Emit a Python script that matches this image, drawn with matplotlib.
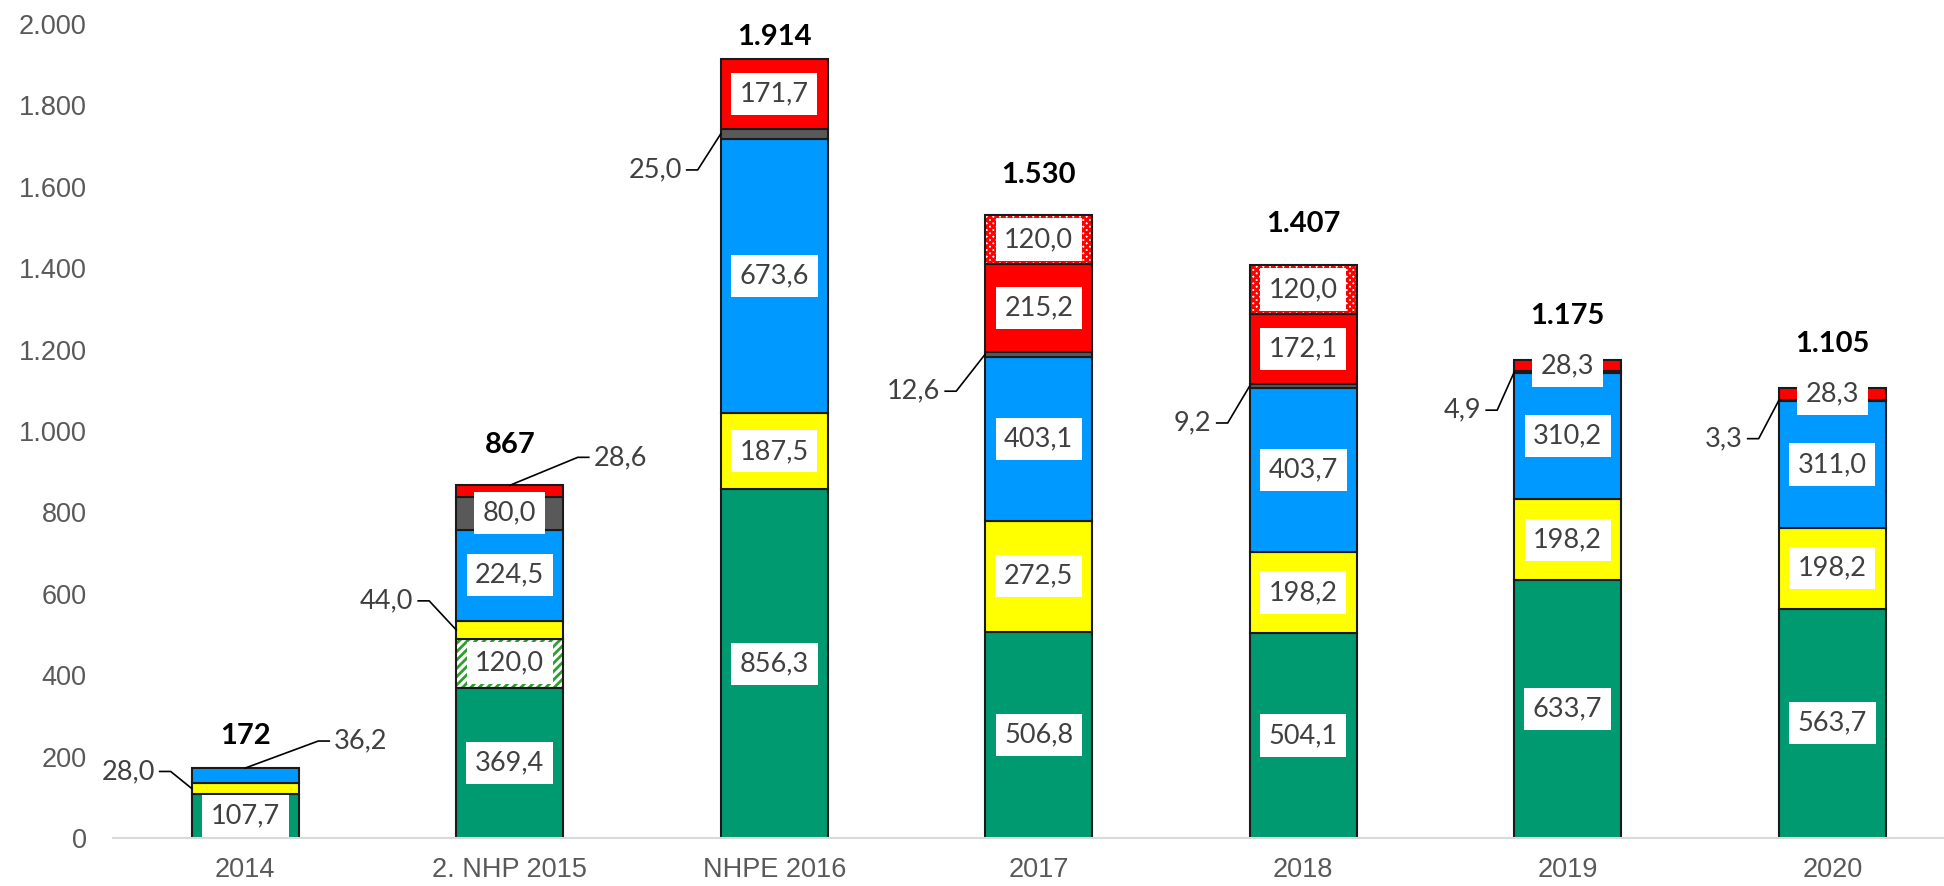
import matplotlib
matplotlib.use("Agg")
import matplotlib.pyplot as plt
import numpy as np
from matplotlib.lines import Line2D

# ---------------- data ----------------
categories = ['2014', '2. NHP 2015', 'NHPE 2016', '2017', '2018', '2019', '2020']
green = [107.7, 369.4, 856.3, 506.8, 504.1, 633.7, 563.7]
green_hatched = [0, 120.0, 0, 0, 0, 0, 0]
yellow = [28.0, 44.0, 187.5, 272.5, 198.2, 198.2, 198.2]
blue = [36.2, 224.5, 673.6, 403.1, 403.7, 310.2, 311.0]
gray = [0, 80.0, 25.0, 12.6, 9.2, 4.9, 3.3]
red = [0, 28.6, 171.7, 215.2, 172.1, 28.3, 28.3]
red_checked = [0, 0, 0, 120.0, 120.0, 0, 0]
totals = [172, 867, 1914, 1530, 1407, 1175, 1105]
yticks = [0, 200, 400, 600, 800, 1000, 1200, 1400, 1600, 1800, 2000]

series = [green, green_hatched, yellow, blue, gray, red, red_checked]

# ---------------- style ----------------
C_GREEN = '#009A70'
C_YELLOW = '#FFFF00'
C_BLUE = '#0099FF'
C_GRAY = '#595959'
C_RED = '#FF0000'
EDGE = '#1a1a1a'
LABEL_FONT = ['Lato', 'DejaVu Sans']
TICK_FONT = ['Liberation Sans', 'DejaVu Sans']

styles = [
    dict(fc=C_GREEN, hatch=None),
    dict(fc='white', hatch='////', hc='#2E9E2E'),
    dict(fc=C_YELLOW, hatch=None),
    dict(fc=C_BLUE, hatch=None),
    dict(fc=C_GRAY, hatch=None),
    dict(fc=C_RED, hatch=None),
    dict(fc='white', hatch='xxxxx', hc=C_RED),
]

W, H, DPI = 1944, 886, 100
fig = plt.figure(figsize=(W / DPI, H / DPI), dpi=DPI)
ax = fig.add_axes([113 / W, 48 / H, 1851.5 / W, 814 / H])
ax.set_xlim(-0.5, 6.5)
ax.set_ylim(0, 2000)
plt.rcParams['hatch.linewidth'] = 2.0

x = np.arange(len(categories))
bw = 0.405
bottoms = np.zeros(len(categories))
seg_info = {}  # (cat, series) -> (bottom, value)
for si, vals in enumerate(series):
    v = np.array(vals, dtype=float)
    st = styles[si]
    for ci in range(len(categories)):
        if v[ci] <= 0:
            continue
        b = bottoms[ci]
        if st['hatch']:
            ax.bar(x[ci], v[ci], bw, bottom=b, color=st['fc'], edgecolor=st['hc'],
                   hatch=st['hatch'], linewidth=0, zorder=2)
            ax.bar(x[ci], v[ci], bw, bottom=b, fill=False, edgecolor=EDGE,
                   linewidth=1.5, zorder=3)
        else:
            ax.bar(x[ci], v[ci], bw, bottom=b, color=st['fc'], edgecolor=EDGE,
                   linewidth=1.5, zorder=3)
        seg_info[(ci, si)] = (b, v[ci])
    bottoms += v


def fmt(v):
    return f"{v:.1f}".replace('.', ',')


# leader-labelled segments: (cat, series) -> (kind, dx, dy) in pixels (screen, y down)
leaders = {
    (0, 2): ('left', -21, -17),
    (0, 3): ('top', 73, -27),
    (1, 2): ('left', -27, -29),
    (1, 5): ('top', 68, -28),
    (2, 4): ('left', -23, 36),
    (3, 4): ('left', -29, 37),
    (4, 4): ('left', -22, 37),
    (5, 4): ('left', -17, 38),
    (6, 4): ('left', -20, 38),
}

fig.canvas.draw()
to_disp = ax.transData.transform
to_data = ax.transData.inverted().transform

for (ci, si), (b, v) in seg_info.items():
    if (ci, si) in leaders:
        kind, dx, dy = leaders[(ci, si)]
        if kind == 'left':
            tx, ty = to_disp((x[ci] - bw / 2, b + v / 2))
            p1 = (tx + dx, ty - dy)
            p2 = (p1[0] - 11, p1[1])
            txt_pos = (p2[0] - 5, p2[1])
            ha = 'right'
        else:
            tx, ty = to_disp((x[ci], b + v))
            p1 = (tx + dx, ty - dy)
            p2 = (p1[0] + 11, p1[1])
            txt_pos = (p2[0] + 5, p2[1])
            ha = 'left'
        pts = to_data(np.array([(tx, ty), p1, p2]))
        ax.add_line(Line2D(pts[:, 0], pts[:, 1], color='black', lw=1.2, zorder=5,
                           clip_on=False))
        tp = to_data(txt_pos)
        ax.text(tp[0], tp[1], fmt(v), ha=ha, va='center', fontsize=19.5,
                color='#404040', family=LABEL_FONT, zorder=6, clip_on=False)
    else:
        ax.text(x[ci], b + v / 2, fmt(v), ha='center', va='center', fontsize=19.5,
                color='#404040', family=LABEL_FONT, zorder=6, clip_on=True,
                bbox=dict(boxstyle='square,pad=0.32', fc='white', ec='none'))

# totals
total_offsets = [32, 40, 22, 40, 41, 44, 44]
for ci, t in enumerate(totals):
    top = bottoms[ci]
    ax.annotate(f"{t:,}".replace(',', '.'), (x[ci], top), xytext=(0, total_offsets[ci]),
                textcoords='offset pixels', ha='center', va='center', fontsize=21,
                fontweight='bold', color='black', family=LABEL_FONT, zorder=6,
                annotation_clip=False)

# axes styling
for s in ['left', 'right', 'top']:
    ax.spines[s].set_visible(False)
ax.spines['bottom'].set_color('#D9D9D9')
ax.spines['bottom'].set_linewidth(1.5)
ax.spines['bottom'].set_zorder(4)
ax.set_yticks(yticks)
ax.set_yticklabels([f"{t:,}".replace(',', '.') for t in yticks])
ax.set_xticks(x)
ax.set_xticklabels(categories)
ax.tick_params(axis='y', length=0, pad=19, labelsize=19.5, labelcolor='#595959')
ax.tick_params(axis='x', length=0, pad=14, labelsize=19.5, labelcolor='#595959')
for lab in ax.get_xticklabels() + ax.get_yticklabels():
    lab.set_family(TICK_FONT)

fig.savefig('out.png', dpi=DPI)
